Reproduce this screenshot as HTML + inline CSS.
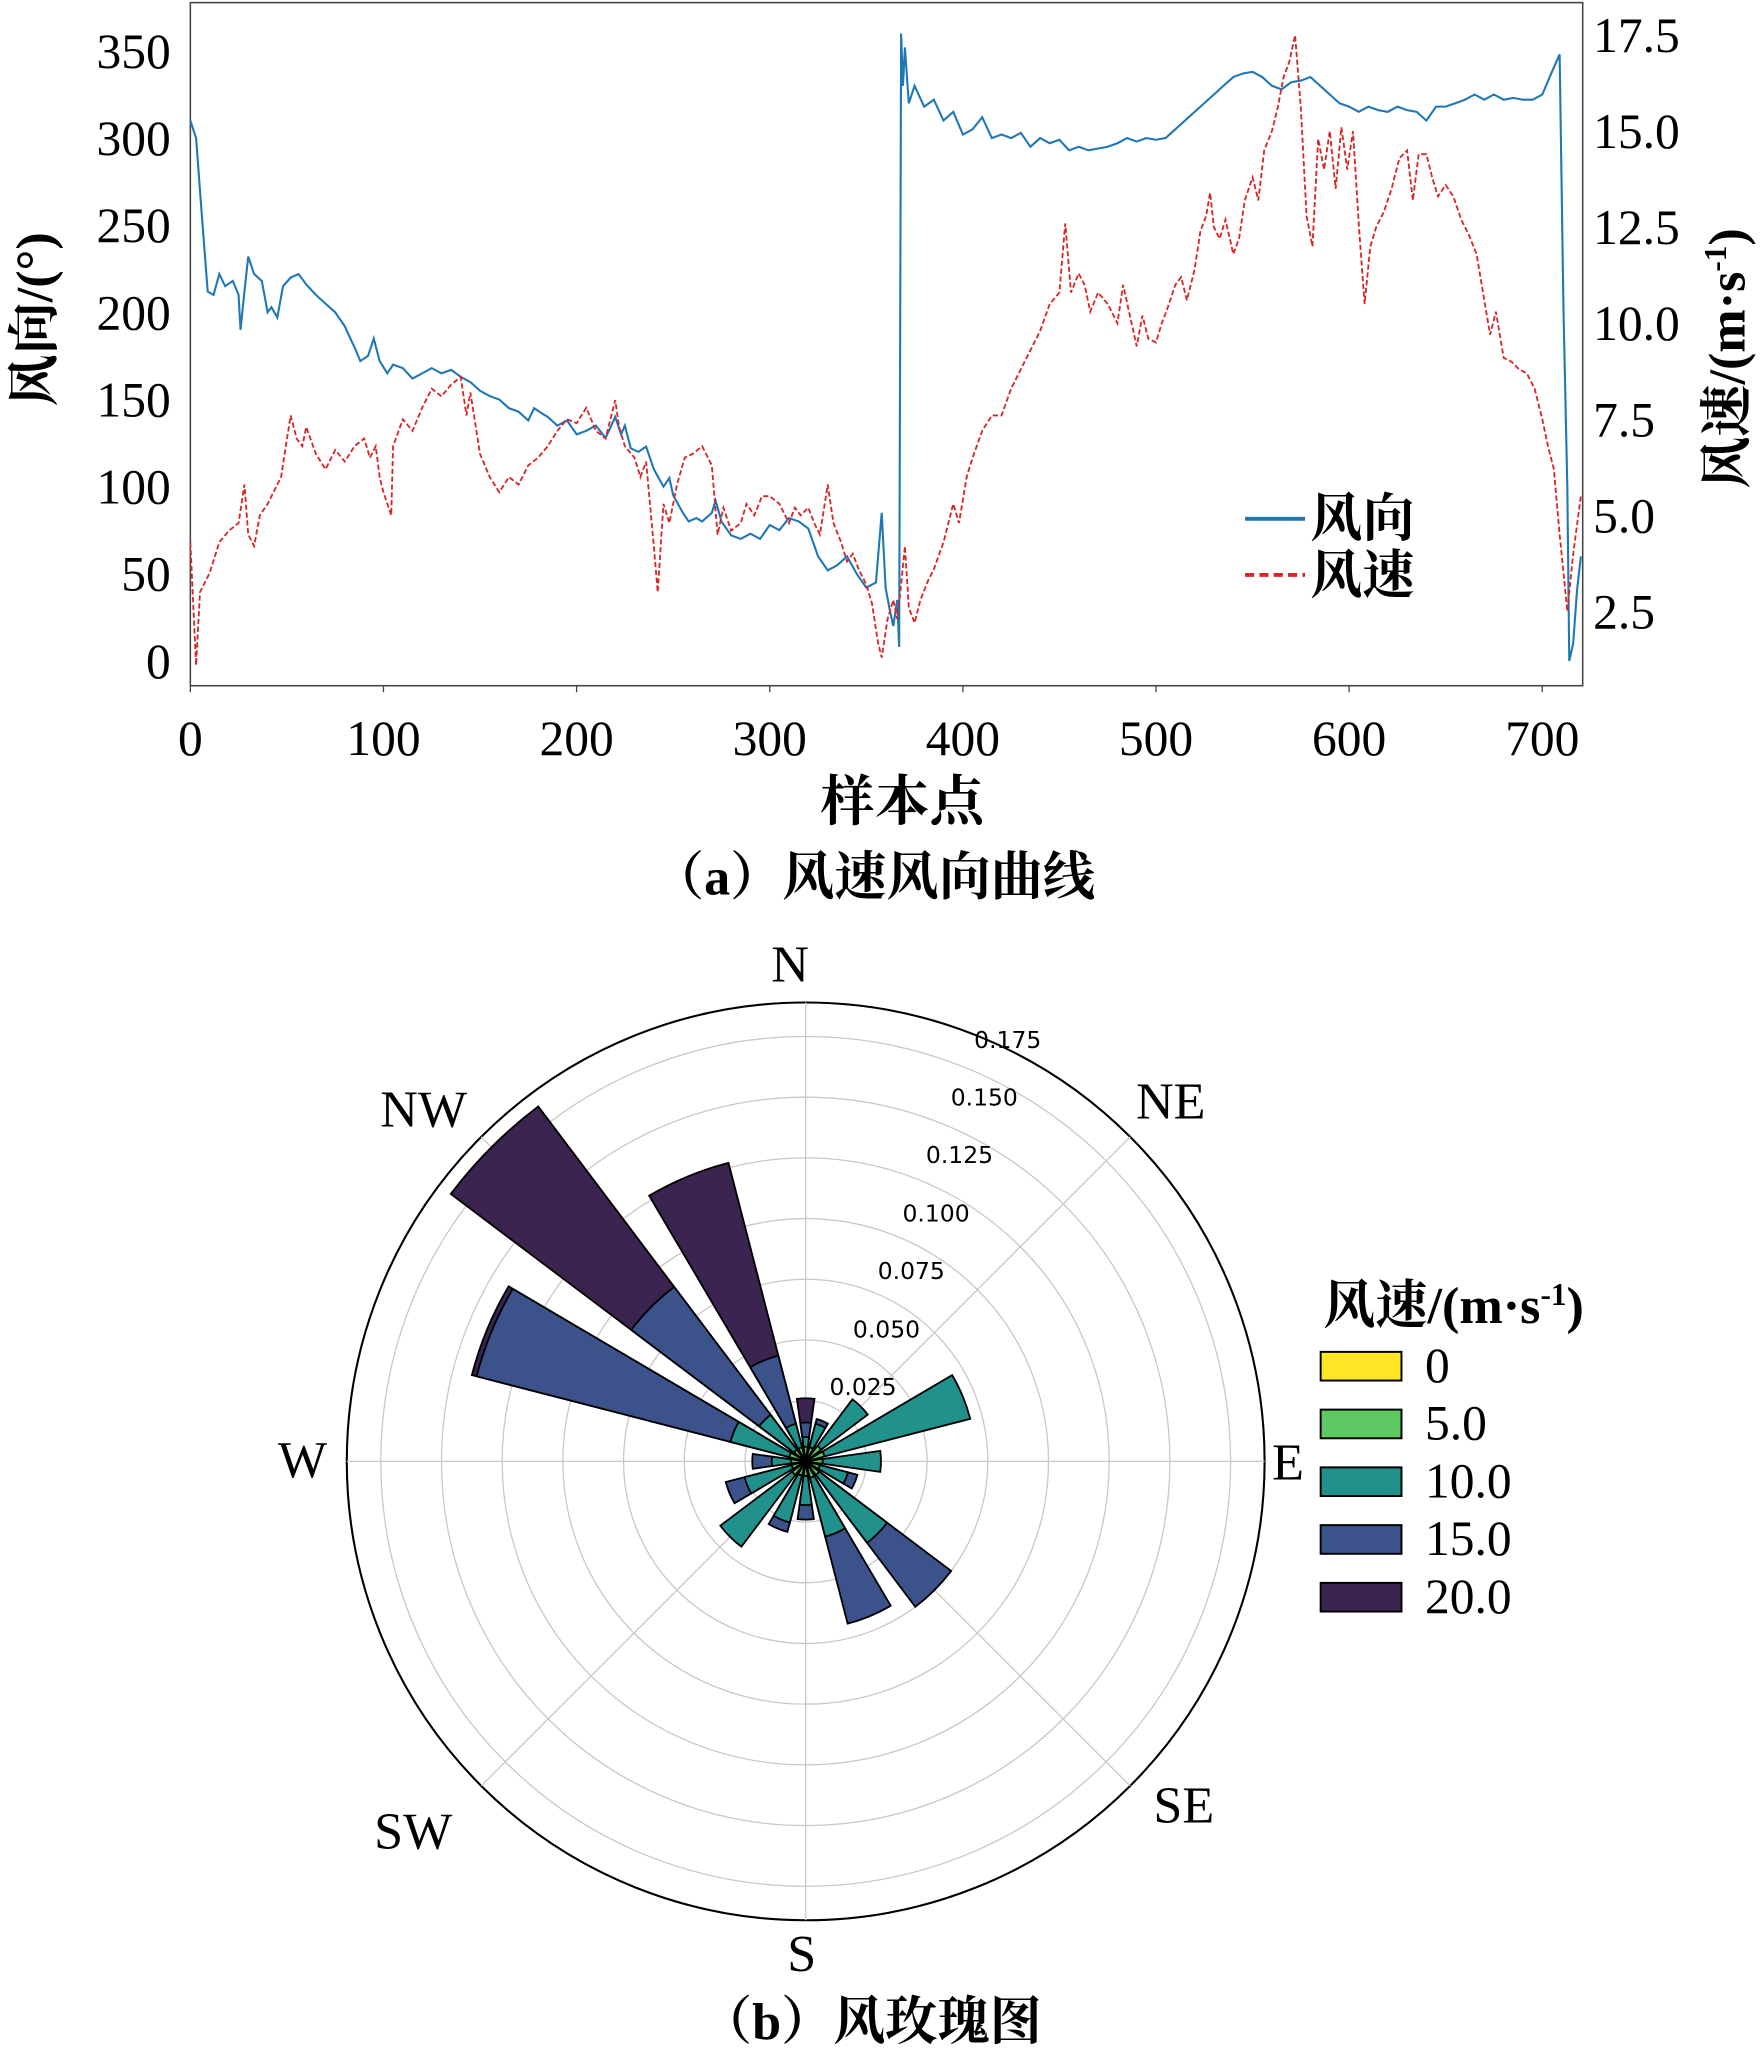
<!DOCTYPE html>
<html><head><meta charset="utf-8">
<style>
html,body{margin:0;padding:0;background:#fff;}
svg{display:block;}
text{font-family:"Liberation Serif","Noto Serif CJK SC","Noto Sans CJK SC",serif;fill:#000;}
.cjk{font-family:"Liberation Serif","Noto Serif CJK SC",serif;font-weight:bold;}
.sm{font-family:"DejaVu Sans","Liberation Sans",sans-serif;}
</style></head>
<body>
<svg id="fig" width="1760" height="2048" viewBox="0 0 1350 1571" preserveAspectRatio="none" xmlns="http://www.w3.org/2000/svg">
<g id="lineChart"></g>
<g id="rose"></g>
</svg>
<script>
// ---------- line chart data ----------
const dirIdx = [0,3,6,9,12,15,18,22,25,26,28,30,33,37,40,42,45,48,52,56,60,65,70,75,80,82,85,88,92,95,98,102,105,110,115,120,125,130,135,140,145,150,155,160,165,170,175,178,182,185,190,195,200,205,210,215,220,223,225,228,232,236,240,245,248,250,255,258,262,265,270,272,275,280,285,290,295,300,305,310,315,320,325,330,335,340,345,350,355,358,360,362,364,366,367,368,369,370,372,375,380,385,390,395,400,405,410,415,420,425,430,435,440,445,450,455,460,465,470,475,480,485,490,495,500,505,510,515,520,525,530,535,540,545,550,555,560,565,570,575,580,585,590,595,600,605,610,615,620,625,630,635,640,645,650,655,660,665,670,675,680,685,690,695,700,705,709,711,713,714,716,718,720];
const dirVals = [310,300,255,212,210,222,215,218,210,190,212,232,222,218,200,203,197,215,220,222,216,210,205,200,192,187,180,172,175,185,172,165,170,168,162,165,168,165,167,163,160,155,152,150,145,143,138,145,142,140,135,138,130,132,135,128,140,130,135,122,120,123,110,100,105,95,85,80,82,80,85,92,80,72,70,73,70,78,75,82,80,76,60,52,55,60,50,42,45,85,42,30,20,35,8,360,330,352,320,330,318,322,310,315,302,305,312,300,302,300,303,295,300,297,299,293,295,293,294,295,297,300,298,300,299,300,305,310,315,320,325,330,335,337,338,335,330,328,332,333,335,330,325,320,318,315,318,316,315,318,316,315,310,318,318,320,322,325,322,325,322,323,322,322,325,338,348,200,100,0,10,40,60];
const spdIdx = [0,3,5,10,15,20,25,28,30,33,36,40,44,47,50,52,55,58,60,65,70,75,80,85,90,93,96,98,100,104,105,110,115,120,125,130,135,140,143,145,150,155,160,165,170,175,180,185,190,195,200,205,210,215,220,222,225,230,233,236,240,242,245,248,252,256,260,265,270,273,276,280,285,288,292,296,300,305,310,313,316,320,323,326,330,333,337,340,343,346,350,353,356,358,361,364,366,368,370,372,375,378,382,385,390,395,398,402,405,410,415,420,425,430,435,440,445,450,453,456,460,463,466,470,475,480,483,486,490,493,496,500,503,506,510,513,516,520,523,526,528,530,533,536,540,543,546,550,553,556,560,563,566,569,572,575,578,581,584,587,590,593,596,599,602,605,608,611,614,618,622,626,630,633,636,640,643,646,650,654,658,662,666,670,673,676,680,684,688,692,696,700,703,706,709,711,713,716,720];
const spdVals = [4.3,1.1,3.0,3.5,4.3,4.6,4.8,5.8,4.5,4.2,5.0,5.3,5.7,6.0,7.0,7.6,7.0,6.8,7.3,6.6,6.2,6.7,6.4,6.8,7.0,6.5,6.8,6.0,5.6,5.0,6.8,7.5,7.2,7.8,8.3,8.1,8.4,8.6,7.6,8.2,6.6,6.0,5.6,6.0,5.8,6.3,6.5,6.8,7.2,7.5,7.4,7.8,7.2,7.0,8.0,7.3,6.8,6.5,6.0,6.4,4.2,3.0,5.3,4.8,5.8,6.5,6.6,6.8,6.3,4.5,5.2,4.6,4.8,5.3,5.0,5.5,5.5,5.3,4.8,5.2,5.0,5.2,4.8,4.5,5.8,4.8,4.3,3.8,4.0,3.6,3.2,2.7,1.7,1.3,2.3,2.8,2.3,3.2,4.2,2.6,2.2,2.8,3.3,3.6,4.3,5.3,4.8,6.0,6.5,7.2,7.6,7.6,8.3,8.8,9.3,9.8,10.5,10.8,12.6,10.8,11.3,11.0,10.3,10.8,10.5,10.0,11.0,10.3,9.4,10.2,9.6,9.5,10.0,10.4,11.0,11.2,10.6,11.4,12.4,12.8,13.4,12.5,12.2,12.7,11.8,12.2,13.2,13.8,13.2,14.5,15.0,15.6,16.4,16.8,17.5,15.6,12.8,12.0,14.8,14.0,15.0,13.5,15.1,14.0,15.0,12.6,10.5,12.0,12.5,12.9,13.5,14.3,14.5,13.2,14.4,14.4,13.8,13.3,13.6,13.3,12.7,12.3,11.8,10.6,9.7,10.3,9.1,9.0,8.8,8.7,8.3,7.5,6.8,6.2,4.5,3.5,2.5,4.0,5.5];
const xTicks = [0,100,200,300,400,500,600,700];
const yLeftTicks = [0,50,100,150,200,250,300,350];
const yRightTicks = [2.5,5.0,7.5,10.0,12.5,15.0,17.5];

// ---------- wind rose data (16 sectors, N clockwise) ----------
const sectors = [0,22.5,45,67.5,90,112.5,135,157.5,180,202.5,225,247.5,270,292.5,315,337.5];
const bin0  = [0.002,0.002,0.002,0.002,0.002,0.002,0.002,0.002,0.002,0.002,0.002,0.002,0.002,0.002,0.002,0.002];
const bin5  = [0.004,0.004,0.006,0.006,0.005,0.004,0.005,0.005,0.004,0.004,0.005,0.004,0.004,0.005,0.004,0.004];
const bin10 = [0.004,0.010,0.024,0.062,0.024,0.012,0.035,0.025,0.012,0.020,0.037,0.020,0.008,0.025,0.018,0.010];
const bin15 = [0.006,0.002,0.000,0.000,0.000,0.004,0.033,0.037,0.006,0.004,0.000,0.008,0.008,0.108,0.066,0.029];
const bin20 = [0.010,0.000,0.000,0.000,0.000,0.000,0.000,0.000,0.000,0.000,0.000,0.000,0.000,0.002,0.093,0.082];
const speedLabels = ['0','5.0','10.0','15.0','20.0'];
const ringVals = [0.025,0.050,0.075,0.100,0.125,0.150,0.175];
const compass = ['N','NE','E','SE','S','SW','W','NW'];

const NS='http://www.w3.org/2000/svg';
function mk(tag, attrs, parent, txt){const e=document.createElementNS(NS,tag);for(const k in attrs)e.setAttribute(k,attrs[k]);if(txt!==undefined)e.textContent=txt;parent.appendChild(e);return e;}

// ---------- line chart ----------
const L=document.getElementById('lineChart');
const PL=146,PR=1214,PT=2,PB=526;
const X=i=>146+i*1.4814;
const YL=v=>507-v*1.337;
const YR=v=>469-(v-2.5)*29.47;
let frame=mk('rect',{x:PL,y:PT,width:PR-PL,height:PB-PT,fill:'none',stroke:'#444','stroke-width':1.2},L);


xTicks.forEach(t=>{
  let g=mk('g',{},L);
  
  
  mk('line',{x1:X(t),x2:X(t),y1:PB,y2:PB+5,stroke:'#444'},g);
  mk('text',{x:X(t),y:579,'font-size':38,'text-anchor':'middle'},g,t);
});
yLeftTicks.forEach(t=>{
  let g=mk('g',{},L);
  
  
  mk('text',{x:131,y:YL(t)+13,'font-size':38,'text-anchor':'end'},g,t);
});
yRightTicks.forEach(t=>{
  let g=mk('g',{},L);
  
  
  mk('text',{x:1222,y:YR(t)+13,'font-size':38,'text-anchor':'start'},g,t.toFixed(1));
});
let dp=dirIdx.map((i,k)=>(k?'L':'M')+X(i).toFixed(1)+' '+YL(dirVals[k]).toFixed(1)).join('');
let blue=mk('path',{d:dp,fill:'none',stroke:'#1f77b4','stroke-width':1.6},L);


let sp=spdIdx.map((i,k)=>(k?'L':'M')+X(i).toFixed(1)+' '+YR(spdVals[k]).toFixed(1)).join('');
let red=mk('path',{d:sp,fill:'none',stroke:'#d62728','stroke-width':1.4,'stroke-dasharray':'4 2'},L);


</script>
<script>
(function(){
const L=document.getElementById('lineChart');
L.insertAdjacentHTML('beforeend',`
<g>
 <line x1="955" y1="398" x2="1001" y2="398" stroke="#1f77b4" stroke-width="3"/>
 <text class="cjk" x="1005" y="411" font-size="40">风向</text>
 <line x1="955" y1="441" x2="1001" y2="441" stroke="#d62728" stroke-width="3" stroke-dasharray="7 4"/>
 <text class="cjk" x="1005" y="455" font-size="40">风速</text>
</g>
<text class="cjk" x="692" y="629" font-size="42" text-anchor="middle">样本点</text>
<text class="cjk" transform="translate(40,245) rotate(-90)" font-size="40" text-anchor="middle">风向/(°)</text>
<text class="cjk" transform="translate(1338,275) rotate(-90)" font-size="40" text-anchor="middle">风速/(m·s<tspan font-size="24" dy="-14">-1</tspan><tspan dy="14">)</tspan></text>
<text class="cjk" x="670" y="686" font-size="40" text-anchor="middle">（a）风速风向曲线</text>
`);
})();
</script>
<script>
(function(){
const R=document.getElementById('rose');
const cx=618,cy=1121,RAD=352,RMAX=0.189;
const rs=v=>v/RMAX*RAD;
function pt(b,r){const a=b*Math.PI/180;return [cx+r*Math.sin(a),cy-r*Math.cos(a)];}
mk('circle',{cx:cx,cy:cy,r:RAD,fill:'#fff',stroke:'#000','stroke-width':1.6},R);
ringVals.forEach(v=>{
  let c=mk('circle',{cx:cx,cy:cy,r:rs(v),fill:'none',stroke:'#c8c8c8','stroke-width':1},R);
  
  
});
for(let b=0;b<360;b+=45){const p=pt(b,RAD);mk('line',{x1:cx,y1:cy,x2:p[0],y2:p[1],stroke:'#c8c8c8','stroke-width':1},R);}
const colors=['#fde725','#5ec962','#21918c','#3b528b','#3b2450'];
const bins=[bin0,bin5,bin10,bin15,bin20];
const half=8;
function wedge(b,r0,r1){
  const a=pt(b-half,r0),bq=pt(b+half,r0),c=pt(b+half,r1),d=pt(b-half,r1);
  return `M${a[0]} ${a[1]}L${d[0]} ${d[1]}A${r1} ${r1} 0 0 1 ${c[0]} ${c[1]}L${bq[0]} ${bq[1]}A${r0} ${r0} 0 0 0 ${a[0]} ${a[1]}Z`;
}
sectors.forEach((b,s)=>{
  let cum=[];let t=0;bins.forEach(arr=>{t+=arr[s];cum.push(t);});
  for(let k=bins.length-1;k>=0;k--){
    if(bins[k][s]<=0)continue;
    let p=mk('path',{d:wedge(b,0,rs(cum[k])),fill:colors[k],stroke:'#000','stroke-width':1.4},R);
    
    
  }
});
const rl=[[662,1070],[680,1026],[699,981],[718,937],[736,892],[755,848],[773,804]];
ringVals.forEach((v,i)=>{
  let t=mk('text',{x:rl[i][0],y:rl[i][1],'font-size':18,'text-anchor':'middle',class:'sm'},R,v.toFixed(3));
  
  
});
const cpos=[[606,753],[898,858],[988,1135],[908,1398],[615,1512],[317,1418],[232,1133],[325,864]];
compass.forEach((c,i)=>{
  let t=mk('text',{x:cpos[i][0],y:cpos[i][1],'font-size':40,'text-anchor':'middle'},R,c);
  
  
});
R.insertAdjacentHTML('beforeend',`<text class="cjk" x="1015" y="1015" font-size="40">风速/(m·s<tspan font-size="24" dy="-14">-1</tspan><tspan dy="14">)</tspan></text>`);
speedLabels.forEach((l,i)=>{
  let y=1037+i*44.3;
  let g=mk('g',{},R);
  
  
  mk('rect',{x:1013,y:y,width:62,height:22,fill:colors[i],stroke:'#000','stroke-width':1.5},g);
  mk('text',{x:1093,y:y+23,'font-size':38},g,l);
});
R.insertAdjacentHTML('beforeend',`<text class="cjk" x="668" y="1564" font-size="40" text-anchor="middle">（b）风玫瑰图</text>`);
})();
</script>
</body></html>
